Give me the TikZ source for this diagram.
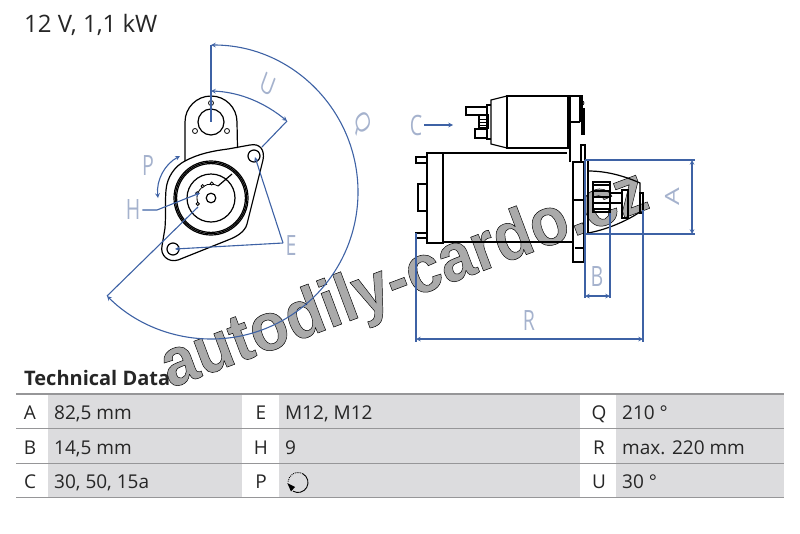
\documentclass[tikz,border=0pt]{standalone}
\usepackage{fontspec}
\setmainfont{Open Sans}
\newfontfamily\markfont{Liberation Sans}
\usepackage{tikz}
\definecolor{dimblue}{RGB}{62,98,165}
\definecolor{labelblue}{RGB}{165,178,205}
\definecolor{cellgray}{RGB}{220,220,222}
\definecolor{rulegray}{RGB}{150,150,152}
\definecolor{markgray}{RGB}{170,170,170}
\tikzset{
    part/.style={black, line width=1.2pt},
    thinpart/.style={black, line width=0.8pt},
    dimline/.style={dimblue, line width=1.1pt},
    dimarrow/.style={dimline, stealth-stealth},
    dimlabel/.style={text=labelblue, font=\fontsize{28}{28}\selectfont, xscale=0.7, inner sep=0pt},
    celltext/.style={font=\fontsize{19}{20}\selectfont, text=black!85, inner sep=0pt}
}
\begin{document}
\begin{tikzpicture}[x=1pt, y=-1pt]
    \useasboundingbox (0,0) rectangle (800,533);

    % watermark
    \node (watermark) [rotate=20.6, xscale=0.92, anchor=base, text=markgray, inner sep=0pt, font=\markfont\bfseries\fontsize{68}{68}\selectfont] at (411,298)
        {\special{pdf:code 2 Tr 0.5 w 0 0 0 RG}autodily-cardo.cz\special{pdf:code 0 Tr}};

    % front view
    \coordinate (center) at (211,198);
    \coordinate (holeA) at (254,156);
    \coordinate (holeB) at (173,249);
    \draw[part] (185,161) -- (185,122) arc (180:360:26) -- (237.5,148);
    \draw[part] (211,122) circle (13);
    \foreach \x/\y in {211/103,195/131,227/131}
        \draw[thinpart] (\x,\y) circle (2.5);
    \draw[part] (185,161) .. controls (198,154) and (212,151) .. (228,149)
        -- (250,145) .. controls (260,143) and (265,150) .. (263,160)
        -- (247,224) .. controls (245,232) and (236,237) .. (228,240)
        -- (178,260) .. controls (168,263) and (160,255) .. (162,246)
        -- (165,228) .. controls (166,215) and (165,200) .. (166,190)
        .. controls (167,177) and (175,166) .. (185,161) -- cycle;
    \draw[part] (holeA) circle (6);
    \draw[part] (holeB) circle (6);
    \foreach \r in {37,35.7,34.4}
        \draw[part] (center) circle (\r);
    \draw[part] (center) circle (24);
    \draw[part] (232,174) -- (218,186);
    \draw[thinpart] (218,186) arc (-60:-200:14);
    \foreach \a in {-87,-125,-161,156}
        \draw[thinpart, fill=white] (center) ++(\a:14.5) circle (1.6);
    \draw[part] (center) circle (4.8);

    % side view, solenoid
    \draw[part] (507,96) rectangle (568,148);
    \draw[part] (507,96) -- (491,100) -- (491,144) -- (507,148);
    \draw[part] (491,105) -- (487,105) -- (487,139) -- (491,139);
    \draw[part] (466,107) rectangle (487,115);
    \draw[part] (479,115) rectangle (488,128);
    \draw[thinpart] (479,119) -- (488,119) (479,122) -- (488,122) (479,125) -- (488,125);
    \draw[part] (475,129) rectangle (487,138);
    \draw[part] (568,96) -- (582,96) -- (582,108) (570,122) -- (580,122);
    \draw[part] (570,96) -- (570,162) (580,96) -- (580,122);
    \draw[thinpart] (582,103) circle (2);
    \draw[part] (582,109) rectangle (584,134);
    \draw[part] (581,145) rectangle (585,162);

    % side view, motor
    \draw[part] (427,153) rectangle (443,243);
    \draw[part] (443,153) -- (567,153) (443,242) -- (573,242);
    \draw[part] (416,157) rectangle (427,163);
    \draw[part] (416,233) rectangle (427,238);
    \draw[part] (418,184) rectangle (427,211);
    \draw[part] (573,162) rectangle (584,262);
    \draw[part] (573,200) -- (584,200);
    \draw[part] (575,248) -- (583,248);

    % side view, pinion
    \draw[part] (588,160) -- (588,233);
    \draw[part] (588,171) .. controls (605,171) and (622,175) .. (640,183) -- (640,212)
        .. controls (625,222) and (605,230) .. (588,233);
    \draw[part] (593,182) rectangle (610,212);
    \foreach \y in {185,191,197,203,209}
        \draw[part] (593,\y) -- (610,\y);
    \draw[part] (610,193) rectangle (622,203);
    \draw[part] (622,190) rectangle (628,218);
    \draw[part] (640,193) rectangle (643,213);

    % dimensions, front view
    \coordinate (topQ) at (211,45);
    \coordinate (topU) at (211,91);
    \coordinate (endU) at (287,121);
    \coordinate (endQ) at (107,296);
    \draw[dimline] (topQ) -- (211,122);
    \draw[dimline] (endQ) -- (198,207);
    \draw[dimline] (endU) -- (262,147);
    \draw[dimarrow] (topQ) arc (-90:135:147);
    \draw[dimarrow] (topU) .. controls (240,92) and (265,103) .. (endU);
    \node (labelU) [dimlabel, rotate=-28] at (268,85) {U};
    \node (labelQ) [dimlabel, rotate=-62] at (362,123) {Q};
    \node (labelP) [dimlabel] at (148,166) {P};
    \draw[dimarrow] (180,156) .. controls (165,164) and (156,180) .. (158,198);
    \node (labelH) [dimlabel] at (133,210) {H};
    \draw[dimline, -stealth] (labelH.east) ++(2,0) -- (157,210) -- (200,193);
    \node (labelE) [dimlabel] at (291,246) {E};
    \coordinate (splitE) at (283,243);
    \draw[dimline, -stealth] (splitE) -- (255,157);
    \draw[dimline, -stealth] (splitE) -- (175,249);

    % dimensions, side view
    \node (labelC) [dimlabel] at (416,125) {C};
    \draw[dimline, -stealth] (424,125) -- (453,125);
    \draw[dimline] (585,160) -- (695,160);
    \draw[dimline] (585,234) -- (695,234);
    \draw[dimarrow] (692,160) -- (692,234);
    \node (labelA) [dimlabel, rotate=90] at (672,197) {A};
    \draw[dimline] (585,160) -- (585,298);
    \draw[dimline] (610,213) -- (610,298);
    \draw[dimarrow] (585,296) -- (610,296);
    \node (labelB) [dimlabel] at (597,277) {B};
    \draw[dimline] (416,233) -- (416,342);
    \draw[dimline] (643,210) -- (643,342);
    \draw[dimarrow] (416,339) -- (643,339);
    \node (labelR) [dimlabel] at (529,320) {R};

    % heading
    \node (voltage) [anchor=base west, inner sep=0pt, font=\fontsize{24}{26}\selectfont, text=black!85] at (24,32) {12 V, 1,1 kW};
    \node (heading) [anchor=base west, inner sep=0pt, font=\bfseries\fontsize{20}{22}\selectfont, text=black!85] at (24,385) {Technical Data};

    % table
    \fill[cellgray] (48,394) rectangle (242,498);
    \fill[cellgray] (279,394) rectangle (580,498);
    \fill[cellgray] (616,394) rectangle (784,498);
    \foreach \y in {394,428.5,463.5,497.5}
        \draw[rulegray, line width=1.3pt] (16,\y) -- (784,\y);
    \foreach \l/\x/\y/\v/\t in {A/30/419/54/{82,5 mm}, B/30/454/54/{14,5 mm}, C/30/488.5/54/{30, 50, 15a},
                                E/261/419/285/{M12, M12}, H/261/454/285/{9}, P/261/488.5/285/{},
                                Q/599/419/622/{210 °}, R/599/454/622/{max. 220 mm}, U/599/488.5/622/{30 °}} {
        \node (key\l) [celltext, anchor=base] at (\x,\y) {\l};
        \node (val\l) [celltext, anchor=base west] at (\v,\y) {\t};
    }
    \coordinate (iconP) at (298,482.5);
    \draw[black, line width=0.9pt] (iconP) ++(-60:10) arc (-60:120:10);
    \draw[black, line width=0.9pt, densely dotted] (iconP) ++(-60:10) arc (-60:-175:10);
    \fill[black] (287.3,483) -- (291,491.5) -- (295,487) -- cycle;
\end{tikzpicture}
\end{document}
